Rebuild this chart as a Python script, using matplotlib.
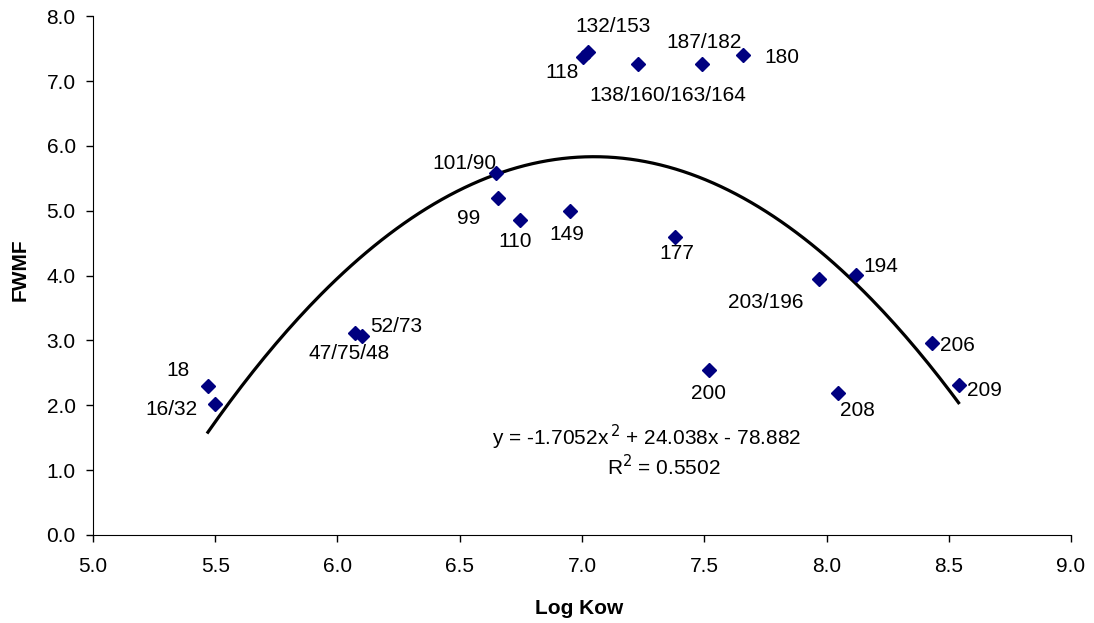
import numpy as np
import matplotlib.pyplot as plt

plt.rcParams['font.family'] = ['Liberation Sans', 'DejaVu Sans']

# congener data
labels = ["18", "16/32", "47/75/48", "52/73", "101/90", "99", "110", "149",
          "118", "132/153", "138/160/163/164", "187/182", "180", "177",
          "200", "203/196", "194", "208", "206", "209"]
log_kow = [5.47, 5.50, 6.07, 6.10, 6.65, 6.655, 6.745, 6.95,
           7.005, 7.024, 7.23, 7.49, 7.66, 7.38,
           7.52, 7.97, 8.12, 8.046, 8.43, 8.54]
fwmf = [2.30, 2.02, 3.11, 3.07, 5.58, 5.20, 4.86, 4.99,
        7.37, 7.45, 7.27, 7.27, 7.40, 4.60,
        2.55, 3.94, 4.01, 2.19, 2.96, 2.31]
# label offsets in pixels (dx, dy), y down
offsets = [(-30, -15), (-44, 6), (-5, 20), (34, -9), (-32, -10), (-29, 21),
           (-5, 22), (-3, 23), (-21, 15), (25, -25), (30, 32), (2, -21),
           (38, 2), (2, 17), (-1, 24), (-53, 23), (25, -8), (20, 18),
           (26, 2), (26, 5)]

# trendline coefficients printed on the chart
coef = [-1.7052, 24.038, -78.882]

fig = plt.figure(figsize=(10.94, 6.23), dpi=100)
ax = fig.add_axes([0.085, 0.1413, 0.894, 0.8327])

xs = np.linspace(min(log_kow), max(log_kow), 200)
ax.plot(xs, np.polyval(coef, xs), color='black', lw=2.3, zorder=2)
ax.plot(log_kow, fwmf, 'D', color='#000080', ms=7, zorder=3)

for lab, x, y, (dx, dy) in zip(labels, log_kow, fwmf, offsets):
    ax.annotate(lab, (x, y), xytext=(dx * 0.72, -dy * 0.72),
                textcoords='offset points', ha='center', va='center',
                fontsize=15)

ax.text(7.264, 1.51, "y = -1.7052x$^{\\,2}$ + 24.038x - 78.882", ha='center',
        va='center', fontsize=15)
ax.text(7.334, 1.06, "R$^2$ = 0.5502", ha='center', va='center', fontsize=15)

ax.set_xlim(5.0, 9.0)
ax.set_ylim(0.0, 8.0)
ax.set_xticks(np.arange(5.0, 9.01, 0.5))
ax.set_yticks(np.arange(0.0, 8.01, 1.0))
ax.xaxis.set_major_formatter(plt.FormatStrFormatter('%.1f'))
ax.yaxis.set_major_formatter(plt.FormatStrFormatter('%.1f'))
ax.tick_params(labelsize=15, direction='out', length=5, width=1)
ax.tick_params(axis='x', pad=11)
ax.tick_params(axis='y', pad=7.5)
ax.spines['top'].set_visible(False)
ax.spines['right'].set_visible(False)

fig.text(579 / 1094, 1 - 608 / 623, "Log Kow", fontsize=15, fontweight='bold',
         ha='center', va='center')
fig.text(20 / 1094, 1 - 270 / 623, "FWMF", fontsize=15, fontweight='bold',
         ha='center', va='center', rotation=90)

fig.savefig("out.png", dpi=100)
